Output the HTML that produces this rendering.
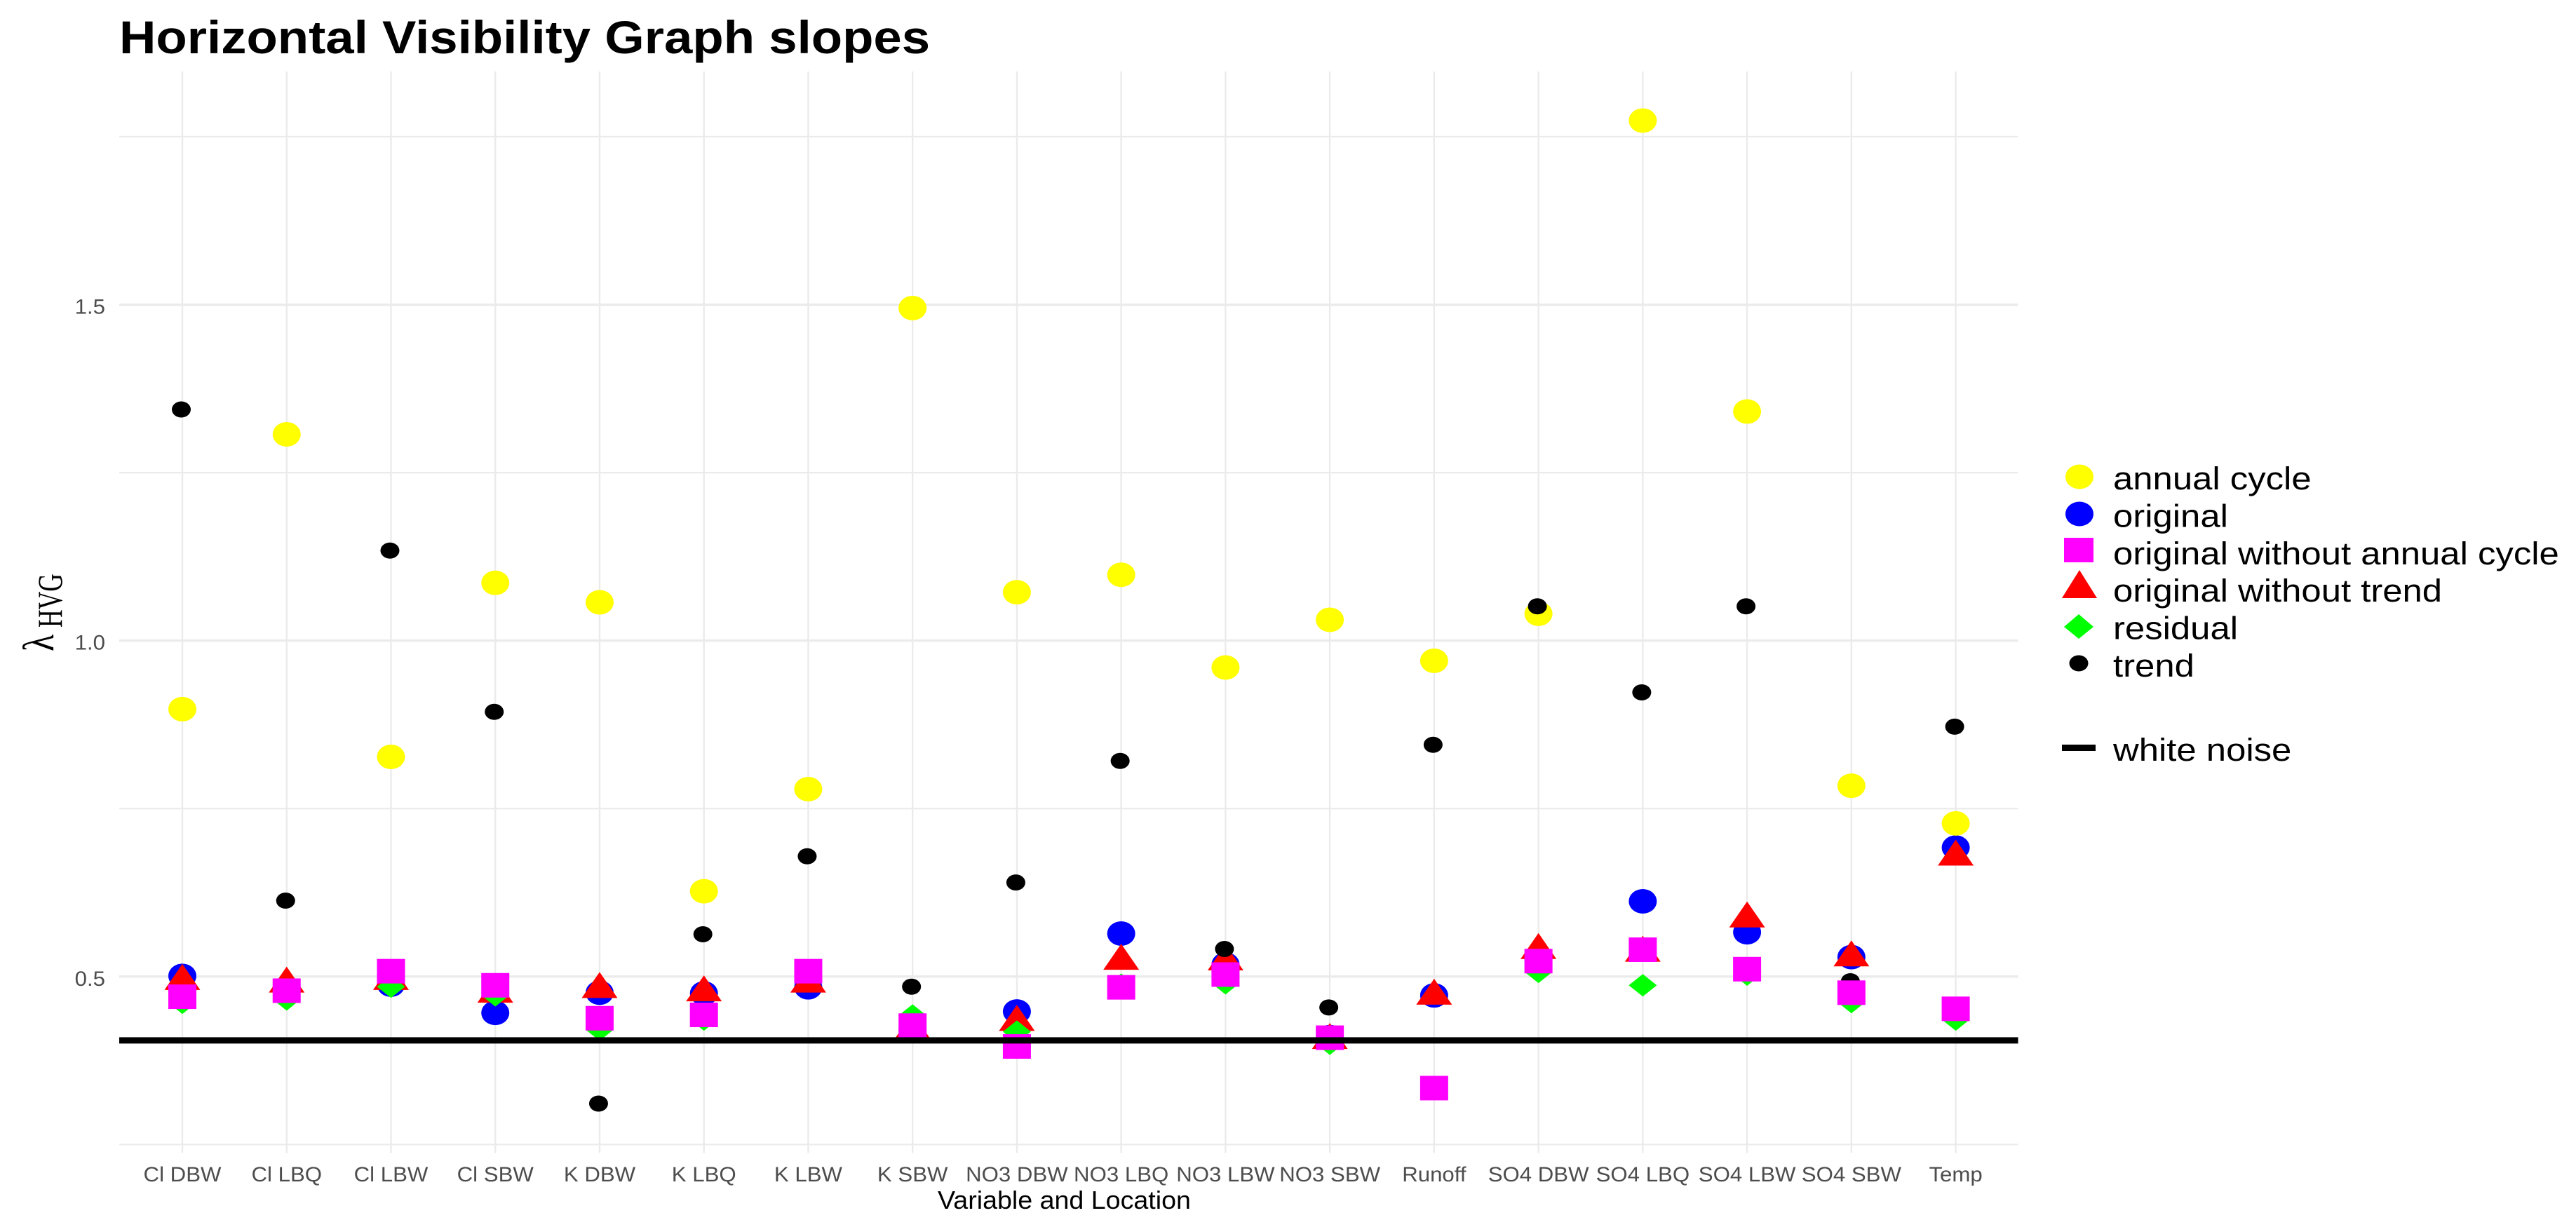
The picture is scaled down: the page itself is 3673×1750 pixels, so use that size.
<!DOCTYPE html>
<html lang="en">
<head>
<meta charset="utf-8">
<title>Horizontal Visibility Graph slopes</title>
<style>
html,body{margin:0;padding:0;background:#fff;}
svg{display:block;font-family:"Liberation Sans",Arial,sans-serif;}
</style>
</head>
<body>
<svg id="chart" xmlns="http://www.w3.org/2000/svg" width="3673" height="1750" viewBox="0 0 3673 1750">
  <rect x="0" y="0" width="3673" height="1750" fill="#ffffff"/>
  <g id="grid"></g>
  <g id="xticks"></g>
  <g id="ylabels"></g>
  <g id="xlabels"></g>
  <g id="marks"></g>
  <g id="refline"></g>

  <text transform="translate(170,76) scale(1.1,1)" font-size="66" font-weight="700" fill="#000000">Horizontal Visibility Graph slopes</text>
  <text transform="translate(1337,1724) scale(1.045,1)" font-size="36" fill="#000000">Variable and Location</text>
  <g font-family="'Liberation Serif','DejaVu Serif',serif" fill="#000000">
    <text transform="translate(76,929) rotate(-90) scale(1,1.25)" font-size="50">λ</text>
    <text transform="translate(88,895) rotate(-90) scale(1,1.4)" font-size="35.5">HVG</text>
  </g>

  <g>
    <ellipse cx="2965" cy="680" rx="20" ry="17.5" fill="#ffff00"/>
    <ellipse cx="2965" cy="733" rx="20" ry="17.5" fill="#0000ff"/>
    <rect x="2943" y="767" width="42" height="35" fill="#ff00ff"/>
    <polygon points="2965,813 2990,853 2940,853" fill="#ff0000"/>
    <polygon points="2964,876 2985,894 2964,911 2943,894" fill="#00ff00"/>
    <ellipse cx="2964" cy="946" rx="13.5" ry="11.5" fill="#000000"/>
    <rect x="2940" y="1062" width="48" height="9" fill="#000000"/>
    <g font-size="45" fill="#000000">
      <text transform="translate(3013,698) scale(1.13,1)">annual cycle</text>
      <text transform="translate(3013,751.5) scale(1.13,1)">original</text>
      <text transform="translate(3013,805) scale(1.13,1)">original without annual cycle</text>
      <text transform="translate(3013,858) scale(1.13,1)">original without trend</text>
      <text transform="translate(3013,911.5) scale(1.13,1)">residual</text>
      <text transform="translate(3013,965) scale(1.13,1)">trend</text>
      <text transform="translate(3013,1085) scale(1.13,1)">white noise</text>
    </g>
  </g>
</svg>
<script>
var categories = ["Cl DBW","Cl LBQ","Cl LBW","Cl SBW","K DBW","K LBQ","K LBW","K SBW","NO3 DBW","NO3 LBQ","NO3 LBW","NO3 SBW","Runoff","SO4 DBW","SO4 LBQ","SO4 LBW","SO4 SBW","Temp"];
var annualCycle = [0.898,1.307,0.827,1.086,1.057,0.627,0.779,1.495,1.072,1.098,0.960,1.031,0.970,1.040,1.774,1.341,0.784,0.728];
var original = [0.501,0.478,0.488,0.446,0.476,0.475,0.484,0.420,0.448,0.564,0.518,0.410,0.472,0.525,0.612,0.566,0.529,0.692];
var withoutTrend = [0.493,0.489,0.493,0.474,0.481,0.476,0.489,0.420,0.432,0.523,0.522,0.405,0.471,0.539,0.535,0.586,0.528,0.678];
var residual = [0.461,0.466,0.485,0.472,0.421,0.436,0.508,0.442,0.418,0.488,0.490,0.400,0.334,0.507,0.487,0.503,0.462,0.436];
var trend = [1.344,0.613,1.134,0.894,0.311,0.563,0.679,0.485,0.640,0.821,0.541,0.454,0.845,1.051,0.923,1.051,0.493,0.872];
var withoutAnnualCycle = [0.470,0.479,0.508,0.487,0.438,0.443,0.508,0.427,0.396,0.484,0.503,0.409,0.334,0.523,0.540,0.511,0.476,0.452];
var whiteNoise = [0.405];
var majorTicks = [0.5,1.0,1.5];
var minorTicks = [0.25,0.75,1.25,1.75];
var majorTickLabels = ["0.5","1.0","1.5"];

var NS = "http://www.w3.org/2000/svg";
var PANEL_LEFT = 170, PANEL_RIGHT = 2877.5, PANEL_TOP = 102, PANEL_BOTTOM = 1632.4;
function xScale(i){ return 260 + 148.74 * i; }
function yScale(v){ return 1632.4 - (v - 0.25) * 958.3; }
function make(tag, attrs, parent){
  var el = document.createElementNS(NS, tag);
  for (var k in attrs) el.setAttribute(k, attrs[k]);
  parent.appendChild(el);
  return el;
}
var grid = document.getElementById("grid");
var xticks = document.getElementById("xticks");
var ylabels = document.getElementById("ylabels");
var xlabels = document.getElementById("xlabels");
var marks = document.getElementById("marks");
var refline = document.getElementById("refline");

minorTicks.forEach(function(v){
  var l = make("line", {x1:PANEL_LEFT, x2:PANEL_RIGHT, y1:yScale(v), y2:yScale(v), stroke:"#ebebeb", "stroke-width":2.2}, grid);
  
  
});
majorTicks.forEach(function(v, i){
  var l = make("line", {x1:PANEL_LEFT, x2:PANEL_RIGHT, y1:yScale(v), y2:yScale(v), stroke:"#ebebeb", "stroke-width":3.4}, grid);
  
  
  var t = make("text", {transform:"translate(150," + (yScale(v) + 13) + ") scale(1.04,1)", "text-anchor":"end", "font-size":30, fill:"#4d4d4d"}, ylabels);
  
  
  t.textContent = majorTickLabels[i];
});
categories.forEach(function(name, i){
  var x = xScale(i);
  var l = make("line", {x1:x, x2:x, y1:PANEL_TOP, y2:PANEL_BOTTOM, stroke:"#ebebeb", "stroke-width":2.4}, grid);
  
  
  var k = make("line", {x1:x, x2:x, y1:PANEL_BOTTOM, y2:PANEL_BOTTOM + 12, stroke:"#ebebeb", "stroke-width":2.4}, xticks);
  
  
  var t = make("text", {transform:"translate(" + x + ",1685) scale(1.04,1)", "text-anchor":"middle", "font-size":30, fill:"#4d4d4d"}, xlabels);
  
  
  t.textContent = name;
});

function drawCircle(x, y, rx, ry, fill){
  return make("ellipse", {cx:x, cy:y, rx:rx, ry:ry, fill:fill}, marks);
}
function drawTriangle(x, y, fill){
  return make("polygon", {points:(x) + "," + (y - 24.7) + " " + (x + 25.5) + "," + (y + 12.3) + " " + (x - 25.5) + "," + (y + 12.3), fill:fill}, marks);
}
function drawDiamond(x, y, fill){
  return make("polygon", {points:x + "," + (y - 16) + " " + (x + 20) + "," + y + " " + x + "," + (y + 16) + " " + (x - 20) + "," + y, fill:fill}, marks);
}
function drawSquare(x, y, fill){
  return make("rect", {x:x - 20, y:y - 17.5, width:40, height:35, fill:fill}, marks);
}

original.forEach(function(v, i){
  var m = drawCircle(xScale(i), yScale(v), 20, 17.5, "#0000ff");
  
  
});
annualCycle.forEach(function(v, i){
  var m = drawCircle(xScale(i), yScale(v), 20, 17.5, "#ffff00");
  
  
});
withoutTrend.forEach(function(v, i){
  var m = drawTriangle(xScale(i), yScale(v), "#ff0000");
  
  
});
residual.forEach(function(v, i){
  var m = drawDiamond(xScale(i), yScale(v), "#00ff00");
  
  
});
trend.forEach(function(v, i){
  var m = drawCircle(xScale(i) - 1.5, yScale(v), 13.5, 11.5, "#000000");
  
  
});
withoutAnnualCycle.forEach(function(v, i){
  var m = drawSquare(xScale(i), yScale(v), "#ff00ff");
  
  
});
whiteNoise.forEach(function(v){
  var l = make("line", {x1:PANEL_LEFT, x2:PANEL_RIGHT, y1:yScale(v), y2:yScale(v), stroke:"#000000", "stroke-width":9}, refline);
  
  
});
</script>
</body>
</html>
